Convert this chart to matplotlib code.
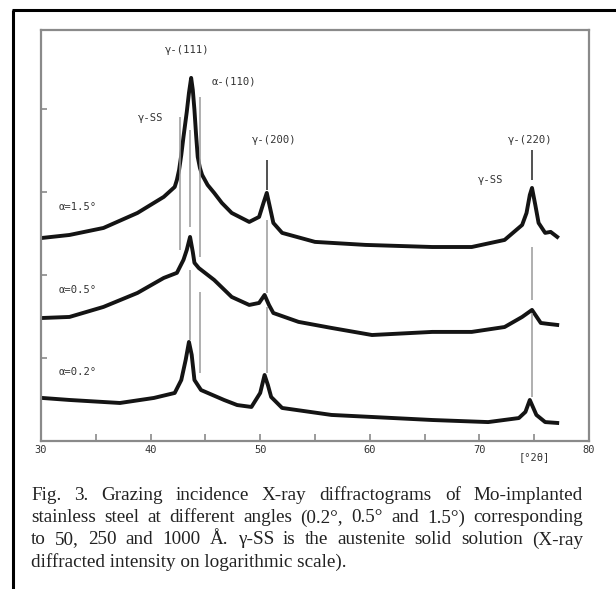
import matplotlib
matplotlib.use("Agg")
import matplotlib.pyplot as plt
from matplotlib.lines import Line2D

# ---------------- data ----------------
tt_15 = [30.1, 32.6, 35.7, 38.8, 41.2, 42.2, 42.4, 42.6, 42.8, 43.0, 43.3, 43.5, 43.7,
         43.85, 44.0, 44.15, 44.3, 44.5, 44.7, 45.2, 45.8, 46.5, 47.4, 49.0, 49.9, 50.3,
         50.6, 50.9, 51.2, 52.0, 55.0, 59.6, 65.7, 69.3, 72.3, 73.9, 74.3, 74.6, 74.8,
         75.1, 75.4, 76.0, 76.5, 77.1]
int_15 = [279, 303, 368, 558, 871, 1148, 1396, 1841, 2790, 4600, 9200, 15590, 23610,
          16940, 9720, 4860, 2640, 1946, 1603, 1214, 973, 737, 558, 435, 500, 737,
          973, 642, 423, 321, 250, 230, 217, 217, 264, 400, 558, 920, 1117,
          697, 423, 321, 330, 287]

tt_05 = [30.1, 32.6, 35.7, 38.8, 41.2, 42.4, 43.0, 43.3, 43.6, 43.85, 44.0, 44.4, 45.8,
         47.4, 49.0, 49.9, 50.4, 50.8, 51.2, 53.5, 56.5, 60.2, 65.7, 69.3, 72.3, 73.9,
         74.8, 75.6, 76.3, 77.1]
int_05 = [30.3, 31.2, 41.2, 60.7, 92, 106, 152, 200, 287, 189, 140, 121, 87,
          54.3, 43.5, 46, 57.4, 43.5, 34.8, 27.2, 23, 18.9, 20.6, 20.6, 23.6, 31.2,
          37.9, 26.4, 25.7, 25]

tt_02 = [30.1, 32.6, 37.2, 40.3, 42.2, 42.8, 43.2, 43.5, 43.75, 44.0, 44.6, 46.7, 47.9,
         49.2, 50.0, 50.4, 50.7, 51.0, 52.0, 56.5, 65.7, 70.8, 73.6, 74.2, 74.6, 75.2,
         76.0, 77.1]
int_02 = [3.30, 3.12, 2.87, 3.30, 3.79, 5.43, 9.46, 15.6, 10.9, 5.43, 4.11, 3.12, 2.71,
          2.57, 3.79, 6.24, 4.73, 3.39, 2.50, 2.06, 1.79, 1.69, 1.89, 2.24, 3.12, 2.06,
          1.69, 1.65]

curve_labels = ["α=1.5°", "α=0.5°", "α=0.2°"]

# reflection markers: position, segments (low, high) in intensity units
marker_pos = [42.7, 43.6, 44.5, 50.6, 74.8]
marker_segs = [
    [(200, 8010)],
    [(379, 5590), (16.5, 115)],
    [(165, 13960), (6.6, 62.4)],
    [(1057, 2430), (60.7, 460), (6.6, 41.2)],
    [(1396, 3208), (50, 217), (3.39, 34.8)],
]
peak_labels = ["γ-(111)", "α-(110)", "γ-SS", "γ-(200)", "γ-(220)", "γ-SS"]

xticks_major = [30, 40, 50, 60, 70, 80]
xtick_labels = ["30", "40", "50", "60", "70", "80"]
xticks_minor = [35, 45, 55, 65, 75]
unit_label = "[°2θ]"

caption_lines = [
    "Fig. 3. Grazing incidence X-ray diffractograms of Mo-implanted",
    "stainless steel at different angles (0.2°, 0.5° and 1.5°) corresponding",
    "to 50, 250 and 1000 Å. γ-SS is the austenite solid solution (X-ray",
    "diffracted intensity on logarithmic scale).",
]

# ---------------- figure ----------------
W, H = 616, 589
fig = plt.figure(figsize=(W / 100, H / 100), dpi=100)
fig.patch.set_facecolor("white")

ax_l, ax_r, ax_t, ax_b = 41, 589, 30, 441
ax = fig.add_axes([ax_l / W, 1 - ax_b / H, (ax_r - ax_l) / W, (ax_b - ax_t) / H])
ax.set_xlim(30, 80)
ax.set_yscale("log")
ax.set_ylim(1, 10 ** 4.95)

axis_col = "#8a8a8a"
for s in ax.spines.values():
    s.set_color(axis_col)
    s.set_linewidth(1.6)

ink = "#141414"
for tt, iv in [(tt_15, int_15), (tt_05, int_05), (tt_02, int_02)]:
    ax.plot(tt, iv, color=ink, lw=2.8, solid_joinstyle="round")

# marker lines
for i, (p, segs) in enumerate(zip(marker_pos, marker_segs)):
    for j, (lo, hi) in enumerate(segs):
        col = "#222222" if (j == 0 and i >= 3) else "#9a9a9a"
        ax.vlines(p, lo, hi, color=col, lw=1.1)

mono = "DejaVu Sans Mono"
tcol = "#333333"
tfs = 7.6
# peak annotations
ax.text(43.3, 51400, peak_labels[0], ha="center", va="center", family=mono, fontsize=tfs, color=tcol)
ax.text(45.6, 21150, peak_labels[1], ha="left", va="center", family=mono, fontsize=tfs, color=tcol)
ax.text(38.8, 7790, peak_labels[2], ha="left", va="center", family=mono, fontsize=tfs, color=tcol)
ax.text(49.25, 4235, peak_labels[3], ha="left", va="center", family=mono, fontsize=tfs, color=tcol)
ax.text(72.6, 4235, peak_labels[4], ha="left", va="center", family=mono, fontsize=tfs, color=tcol)
ax.text(69.9, 1396, peak_labels[5], ha="left", va="center", family=mono, fontsize=tfs, color=tcol)

# curve labels
for lab, yv in zip(curve_labels, [659, 65.9, 6.78]):
    ax.text(31.6, yv, lab, ha="left", va="center", family=mono, fontsize=tfs, color=tcol)

# ticks
ax.set_xticks(xticks_major)
ax.set_xticklabels(xtick_labels)
ax.set_xticks(xticks_minor, minor=True)
ax.tick_params(axis="x", which="both", direction="in", length=5, width=1.2,
               colors=axis_col, labelcolor=tcol, labelsize=7.5, pad=3)
for lab in ax.get_xticklabels():
    lab.set_family(mono)
ax.set_yticks([10, 100, 1000, 10000])
ax.set_yticks([], minor=True)
ax.yaxis.set_major_formatter(plt.NullFormatter())
ax.tick_params(axis="y", which="major", direction="in", length=4, width=1.2, colors=axis_col)
ax.text(75, -0.026, unit_label, transform=ax.get_xaxis_transform(), ha="center", va="top",
        family=mono, fontsize=7.5, color=tcol)

# outer frame (left + top)
fig.add_artist(Line2D([13 / W, 13 / W], [0, 1 - 10 / H], transform=fig.transFigure,
                      color="black", lw=2.2, solid_capstyle="butt"))
fig.add_artist(Line2D([12 / W, 1], [1 - 10 / H, 1 - 10 / H], transform=fig.transFigure,
                      color="black", lw=2.2, solid_capstyle="butt"))

# caption (justified)
renderer = fig.canvas.get_renderer()
cap_left, cap_right = 31, 583
cap_y = [495, 518, 540, 562]
cap_kw = dict(family="Liberation Serif", fontsize=13.8, color="#222222", va="center", ha="left")
for li, (line, yc) in enumerate(zip(caption_lines, cap_y)):
    yf = 1 - yc / H
    if li == len(caption_lines) - 1:
        fig.text(cap_left / W, yf, line, **cap_kw)
        continue
    words = line.split(" ")
    objs = [fig.text(0, yf, w, **cap_kw) for w in words]
    widths = [o.get_window_extent(renderer).width for o in objs]
    gap = (cap_right - cap_left - sum(widths)) / (len(words) - 1)
    x = cap_left
    for o, w in zip(objs, widths):
        o.set_x(x / W)
        x += w + gap

fig.savefig("out.png", dpi=100, facecolor="white")
